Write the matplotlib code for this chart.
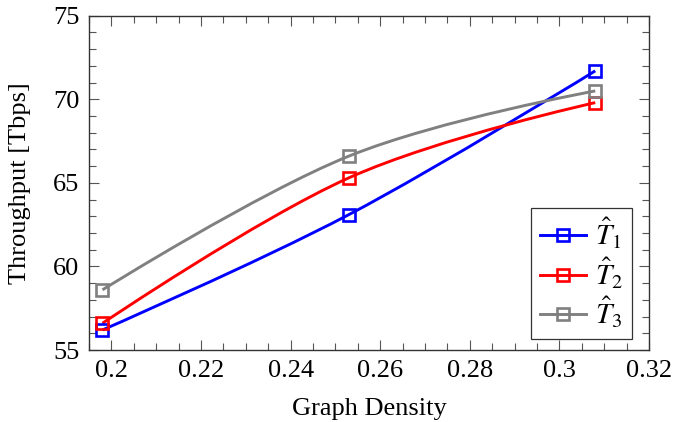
import numpy as np
import matplotlib
matplotlib.use("Agg")
import matplotlib.pyplot as plt
from matplotlib.path import Path
from matplotlib.patches import PathPatch
from matplotlib.ticker import MultipleLocator
from matplotlib.lines import Line2D

# Data
density = [0.198, 0.253, 0.308]
t1 = [56.2, 63.1, 71.7]
t2 = [56.6, 65.3, 69.8]
t3 = [58.6, 66.6, 70.5]
series = [t1, t2, t3]
labels = [r"$\hat{T}_1$", r"$\hat{T}_2$", r"$\hat{T}_3$"]
colors = ["#0000ff", "#ff0000", "#808080"]

plt.rcParams["font.family"] = ["Liberation Serif", "DejaVu Serif"]
plt.rcParams["mathtext.fontset"] = "stix"

fig = plt.figure(figsize=(6.75, 4.22), dpi=100)
ax = fig.add_axes([0.1319, 0.1706, 0.8296, 0.7922])

def smooth_path(xs, ys, tension=0.55 * 0.3333):
    p = np.column_stack([xs, ys]).astype(float)
    n = len(p)
    verts = [p[0]]
    codes = [Path.MOVETO]
    for i in range(n - 1):
        if i == 0:
            c1 = p[0]
        else:
            c1 = p[i] + tension * (p[i + 1] - p[i - 1])
        if i + 1 == n - 1:
            c2 = p[i + 1]
        else:
            c2 = p[i + 1] - tension * (p[i + 2] - p[i])
        verts += [c1, c2, p[i + 1]]
        codes += [Path.CURVE4] * 3
    return Path(verts, codes)

lw = 2.1
handles = []
for ys, c, lab in zip(series, colors, labels):
    patch = PathPatch(smooth_path(density, ys), facecolor="none", edgecolor=c, lw=lw, zorder=2)
    ax.add_patch(patch)
    ax.plot(density, ys, linestyle="none", marker="s", markersize=8, mfc="none",
            mec=c, mew=1.9, zorder=3)
    handles.append(Line2D([], [], color=c, lw=lw, marker="s", markersize=8, mfc="none",
                          mec=c, mew=1.9, label=lab))

ax.set_xlim(0.195, 0.32)
ax.set_ylim(55, 75)
ax.xaxis.set_major_locator(MultipleLocator(0.02))
ax.xaxis.set_minor_locator(MultipleLocator(0.005))
ax.yaxis.set_major_locator(MultipleLocator(5))
ax.yaxis.set_minor_locator(MultipleLocator(1))
ax.set_xticks([0.2, 0.22, 0.24, 0.26, 0.28, 0.3, 0.32])
ax.set_xticklabels(["0.2", "0.22", "0.24", "0.26", "0.28", "0.3", "0.32"])

ax.tick_params(which="both", direction="in", top=True, right=True, colors="#555555",
               labelcolor="black", labelsize=19)
ax.tick_params(which="major", length=7.5, width=0.8, pad=7)
ax.tick_params(which="minor", length=5, width=0.8)
for s in ax.spines.values():
    s.set_color("#333333")
    s.set_linewidth(1.0)

ax.set_xlabel("Graph Density", fontsize=19, labelpad=12)
ax.set_ylabel("Throughput [Tbps]", fontsize=19, labelpad=16)

leg = ax.legend(handles=handles, loc="lower right", bbox_to_anchor=(0.97, 0.033),
                borderaxespad=0, fontsize=21, frameon=True, fancybox=False,
                handlelength=1.6, handletextpad=0.3, labelspacing=0.15, borderpad=0.3)
leg.get_frame().set_edgecolor("black")
leg.get_frame().set_linewidth(0.9)

fig.savefig("out.png", dpi=100)
